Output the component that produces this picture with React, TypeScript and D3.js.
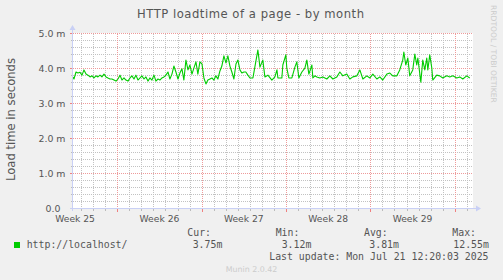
import React from "react";
import * as d3 from "d3";

// ---- data ----
const TITLE = "HTTP loadtime of a page - by month";
const Y_LABEL = "Load time in seconds";
const SERIES_NAME = "http://localhost/";

// days since START, and load time in ms
const DAY_OFFSETS = [
  0, 0.08, 0.25, 0.41, 0.58, 0.75, 0.91, 1.08, 1.24, 1.41, 1.58, 1.74, 1.91, 2.07, 2.24, 2.4, 2.57, 2.74, 2.9, 3.07,
  3.23, 3.4, 3.57, 3.73, 3.9, 4.06, 4.23, 4.39, 4.56, 4.73, 4.89, 5.06, 5.22, 5.39, 5.56, 5.72, 5.89, 6.05, 6.22, 6.38,
  6.55, 6.72, 6.88, 7.05, 7.21, 7.38, 7.55, 7.71, 7.88, 8.04, 8.21, 8.37, 8.54, 8.71, 8.87, 9.04, 9.2, 9.37, 9.54, 9.7,
  9.87, 10.03, 10.2, 10.36, 10.53, 10.7, 10.86, 11.03, 11.19, 11.36, 11.53, 11.69, 11.86, 12.02, 12.19, 12.35, 12.52,
  12.69, 12.85, 13.02, 13.18, 13.35, 13.52, 13.68, 13.85, 14.01, 14.18, 14.34, 14.51, 14.68, 14.93, 15.34, 15.51,
  15.75, 15.92, 16.17, 16.5, 16.75, 16.92, 17.0, 17.33, 17.41, 17.66, 17.74, 17.91, 18.16, 18.41, 18.57, 18.74, 18.99,
  19.24, 19.4, 19.57, 19.82, 19.9, 20.07, 20.23, 20.48, 20.73, 21.06, 21.31, 21.56, 21.89, 22.14, 22.39, 22.72, 22.97,
  23.22, 23.55, 23.8, 24.05, 24.38, 24.63, 24.88, 25.21, 25.46, 25.7, 26.04, 26.29, 26.53, 26.87, 27.11, 27.36, 27.45,
  27.61, 27.78, 27.94, 28.19, 28.36, 28.52, 28.61, 28.86, 29.02, 29.19, 29.35, 29.44, 29.6, 29.77, 29.85, 30.18,
  30.43, 30.68, 31.01, 31.26, 31.51, 31.84, 32.09, 32.34, 32.67, 32.92,
];
const LOAD_MS = [
  3.76, 3.7, 3.9, 3.87, 3.89, 3.81, 3.96, 3.84, 3.81, 3.76, 3.79, 3.73, 3.79, 3.76, 3.81, 3.76, 3.84, 3.76, 3.73, 3.7,
  3.7, 3.67, 3.64, 3.7, 3.81, 3.67, 3.73, 3.67, 3.64, 3.73, 3.79, 3.7, 3.81, 3.67, 3.73, 3.79, 3.7, 3.76, 3.64, 3.73,
  3.67, 3.81, 3.64, 3.7, 3.67, 3.73, 3.76, 3.81, 3.9, 3.7, 3.84, 4.07, 3.9, 3.7, 3.87, 3.99, 3.67, 4.24, 3.96, 4.1,
  3.84, 4.01, 4.19, 3.84, 4.19, 4.13, 3.73, 3.56, 3.67, 3.7, 3.73, 3.67, 3.79, 3.7, 3.93, 4.07, 4.36, 4.16, 4.36,
  4.07, 3.9, 3.7, 4.13, 4.24, 3.96, 3.87, 3.9, 3.9, 3.81, 3.73, 3.73, 4.53, 4.04, 4.24, 3.76, 3.81, 3.67, 3.76, 3.96,
  3.73, 3.73, 4.1, 4.39, 4.01, 3.73, 3.73, 4.04, 4.19, 3.73, 3.9, 4.01, 4.24, 3.84, 4.1, 3.73, 3.79, 3.76, 3.73, 3.76,
  3.7, 3.79, 3.7, 3.76, 3.9, 3.79, 3.84, 3.7, 3.76, 3.79, 3.96, 3.7, 3.79, 3.73, 3.84, 3.7, 3.76, 3.67, 3.84, 3.87,
  3.79, 3.79, 3.96, 4.24, 4.47, 4.1, 4.3, 3.79, 3.96, 4.41, 4.1, 4.3, 3.61, 4.24, 3.96, 4.3, 3.96, 4.39, 4.01, 3.67,
  3.81, 3.79, 3.73, 3.79, 3.76, 3.79, 3.73, 3.76, 3.7, 3.79, 3.73,
];

const Y_TICKS = [0, 1, 2, 3, 4, 5];
const Y_TICK_LABELS = ["0.0", "1.0 m", "2.0 m", "3.0 m", "4.0 m", "5.0 m"];
const WEEK_LABELS = ["Week 25", "Week 26", "Week 27", "Week 28", "Week 29"];
const WEEK_LABEL_DATES = [
  new Date(2025, 5, 18, 12),
  new Date(2025, 5, 25, 12),
  new Date(2025, 6, 2, 12),
  new Date(2025, 6, 9, 12),
  new Date(2025, 6, 16, 12),
];

const LEGEND_HEADERS = ["Cur:", "Min:", "Avg:", "Max:"];
const LEGEND_VALUES = ["3.75m", "3.12m", "3.81m", "12.55m"];
const LAST_UPDATE = "Last update: Mon Jul 21 12:20:03 2025";
const FOOTER = "Munin 2.0.42";
const SIDE_TEXT = "RRDTOOL / TOBI OETIKER";

const START = new Date(2025, 5, 18, 7, 50).getTime();
const END = new Date(2025, 6, 21, 12, 20).getTime();

// ---- layout ----
const W = 503;
const H = 280;
const PL = 73;
const PR = 473;
const PT = 33.5;
const PB = 208.5;

const SANS = "'DejaVu Sans', Verdana, sans-serif";
const MONO = "'DejaVu Sans Mono', monospace";
const TXT = "#555555";

export default function App() {
  const x = d3.scaleTime().domain([START, END]).range([PL, PR]);
  const y = d3.scaleLinear().domain([0, 5]).range([PB, PT]);

  const days = d3.timeDay.range(new Date(START), new Date(END));
  const weeks = d3.timeSunday.range(new Date(START), new Date(END));
  const minorY = d3.range(1, 25).map((i) => i * 0.2).filter((v) => Math.abs(v - Math.round(v)) > 1e-6);

  const points = DAY_OFFSETS.map((d, i) => [START + d * 86400000, LOAD_MS[i]] as [number, number]);
  const line = d3
    .line<[number, number]>()
    .x((p) => x(p[0]))
    .y((p) => y(p[1]));

  const px = (t: Date | number) => Math.round(x(t)) + 0.5;
  const axisColor = "#c9d0f5";
  const legendX = [187.3, 275.7, 364, 452.3];
  const valueX = [192.7, 281.7, 369.3, 453.3];

  return (
    <svg
      width={W}
      height={H}
      style={{ position: "fixed", left: 0, top: 0, display: "block" }}
      xmlns="http://www.w3.org/2000/svg"
    >
      <rect x={0} y={0} width={W} height={H} fill="#f0f0f0" />
      <rect x={PL} y={PT - 0.5} width={PR - PL} height={PB - PT + 1} fill="#ffffff" />

      {/* minor grid */}
      <g stroke="#c2c2c2" strokeDasharray="1 1" shapeRendering="crispEdges">
        {days.map((d, i) => (
          <line key={"dv" + i} x1={px(d)} x2={px(d)} y1={PT} y2={PB} />
        ))}
        {minorY.map((v, i) => (
          <line key={"hv" + i} x1={PL} x2={PR} y1={y(v)} y2={y(v)} />
        ))}
      </g>
      {/* major grid */}
      <g stroke="#ee9a9a" strokeDasharray="1 1" shapeRendering="crispEdges">
        {weeks.map((d, i) => (
          <line key={"wv" + i} x1={px(d)} x2={px(d)} y1={PT} y2={PB} />
        ))}
        {Y_TICKS.filter((v) => v > 0).map((v) => (
          <line key={"mh" + v} x1={PL} x2={PR} y1={y(v)} y2={y(v)} />
        ))}
      </g>

      {/* ticks */}
      <g shapeRendering="crispEdges">
        {days.map((d, i) => (
          <line key={"td" + i} x1={px(d)} x2={px(d)} y1={PB} y2={PB + 2} stroke="#bbbbbb" />
        ))}
        {weeks.map((d, i) => (
          <line key={"tw" + i} x1={px(d)} x2={px(d)} y1={PB} y2={PB + 3} stroke="#f08080" />
        ))}
        {minorY.map((v, i) => (
          <line key={"ty" + i} x1={PL - 2} x2={PL} y1={y(v)} y2={y(v)} stroke="#bbbbbb" />
        ))}
        {Y_TICKS.map((v) => (
          <line key={"tY" + v} x1={PL - 3} x2={PL} y1={y(v)} y2={y(v)} stroke="#f08080" />
        ))}
      </g>

      {/* data line */}
      <path d={line(points) || ""} fill="none" stroke="#00cc00" strokeWidth={1.1} strokeLinejoin="round" />

      {/* axes */}
      <g stroke={axisColor} shapeRendering="crispEdges">
        <line x1={PL - 0.5} x2={PL - 0.5} y1={PB + 2} y2={28} />
        <line x1={PL - 3} x2={476} y1={PB} y2={PB} />
      </g>
      <path d={`M${PL - 3.5},30 L${PL - 0.5},25 L${PL + 2.5},30 Z`} fill={axisColor} />
      <path d={`M476,${PB - 3} L481,${PB} L476,${PB + 3} Z`} fill={axisColor} />

      {/* y tick labels */}
      <g fontFamily={SANS} fontSize={9.4} fill={TXT} textAnchor="end">
        {Y_TICKS.map((v, i) => (
          <text key={"yl" + v} x={Y_TICK_LABELS[i].endsWith("m") ? 65.5 : 60.5} y={y(v) + 3.3}>
            {Y_TICK_LABELS[i]}
          </text>
        ))}
      </g>
      {/* x labels */}
      <g fontFamily={SANS} fontSize={9.2} fill={TXT} textAnchor="middle">
        {WEEK_LABELS.map((l, i) => (
          <text key={l} x={x(WEEK_LABEL_DATES[i])} y={221.5}>
            {l}
          </text>
        ))}
      </g>

      {/* title */}
      <text
        x={250.5}
        y={17.7}
        fontFamily={SANS}
        fontSize={11.6}
        fill={TXT}
        textAnchor="middle"
        textLength={227}
        lengthAdjust="spacing"
      >
        {TITLE}
      </text>

      {/* y axis title */}
      <text
        transform="translate(14.8,119.5) rotate(-90)"
        fontFamily={SANS}
        fontSize={11.6}
        fill={TXT}
        textAnchor="middle"
      >
        {Y_LABEL}
      </text>

      {/* side text */}
      <text transform="translate(490.8,5) rotate(90)" fontFamily={SANS} fontSize={7.6} fill="#cccccc">
        {SIDE_TEXT}
      </text>

      {/* legend */}
      <rect x={14} y={242} width={6} height={6} fill="#00cc00" />
      <g fontFamily={MONO} fontSize={9.85} fill={TXT}>
        <text x={26.7} y={248.3}>
          {SERIES_NAME}
        </text>
        {LEGEND_HEADERS.map((h, i) => (
          <text key={h} x={legendX[i]} y={235.8}>
            {h}
          </text>
        ))}
        {LEGEND_VALUES.map((v, i) => (
          <text key={"v" + i} x={valueX[i]} y={248.3}>
            {v}
          </text>
        ))}
        <text x={488.5} y={259.6} textAnchor="end">
          {LAST_UPDATE}
        </text>
      </g>

      <text x={251.5} y={271.7} fontFamily={SANS} fontSize={7.9} fill="#cccccc" textAnchor="middle">
        {FOOTER}
      </text>
    </svg>
  );
}
